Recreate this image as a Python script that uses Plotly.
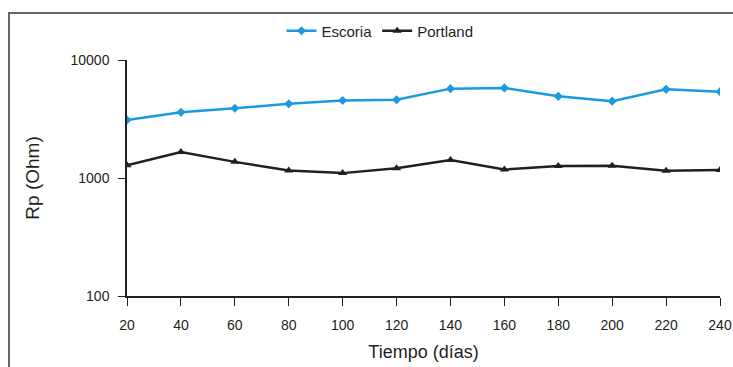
import plotly.graph_objects as go

dias = [20, 40, 60, 80, 100, 120, 140, 160, 180, 200, 220, 240]
escoria = [3100, 3600, 3900, 4250, 4540, 4600, 5720, 5800, 4920, 4480, 5640, 5390]
portland = [1280, 1660, 1370, 1160, 1100, 1210, 1420, 1180, 1265, 1270, 1150, 1170]
y_ticks = [100, 1000, 10000]

BLUE = "#1b9ae0"
BLACK = "#231f20"
FONT = "Liberation Sans, Arial, sans-serif"

fig = go.Figure()
fig.add_trace(go.Scatter(x=dias, y=escoria, name="Escoria", mode="lines+markers",
                         line=dict(color=BLUE, width=2.5),
                         marker=dict(symbol="diamond", size=7, color=BLUE)))
fig.add_trace(go.Scatter(x=dias, y=portland, name="Portland", mode="lines+markers",
                         line=dict(color=BLACK, width=2.5),
                         marker=dict(symbol="triangle-up", size=8, color=BLACK)))

L, R, T, B = 127, 13, 60, 71
W, H = 733, 367
pw, ph = W - L - R, H - T - B

def px_x(p):
    return (p - L) / pw

def px_y(p):
    return (H - B - p) / ph

fig.add_shape(type="rect", xref="paper", yref="paper",
              x0=px_x(9), x1=px_x(745), y0=px_y(380), y1=px_y(13),
              line=dict(color="#666666", width=2), layer="below")

fig.update_layout(
    width=W, height=H,
    margin=dict(l=L, r=R, t=T, b=B, autoexpand=False),
    paper_bgcolor="white", plot_bgcolor="white",
    font=dict(family=FONT, size=14, color="#231f20"),
    showlegend=True,
    legend=dict(orientation="h", x=px_x(380), xanchor="center",
                y=px_y(31), yanchor="middle", font=dict(size=15),
                itemwidth=30, tracegroupgap=0, bgcolor="rgba(0,0,0,0)"),
    xaxis=dict(range=[20, 240], tickmode="array", tickvals=dias,
               ticktext=[str(d) for d in dias], automargin=False,
               showgrid=False, zeroline=False, showline=True,
               linecolor=BLACK, linewidth=1.5,
               ticks="outside", ticklen=8, tickcolor=BLACK, tickwidth=1,
               ticklabelstandoff=7,
               tickfont=dict(size=14),
               title=dict(text="Tiempo (días)", font=dict(size=18), standoff=14)),
    yaxis=dict(type="log", range=[2, 4], tickmode="array", tickvals=y_ticks,
               ticktext=[str(v) for v in y_ticks], automargin=False,
               showgrid=False, zeroline=False, showline=True,
               linecolor=BLACK, linewidth=1.5,
               ticks="outside", ticklen=7, tickcolor=BLACK, tickwidth=1,
               ticklabelstandoff=6,
               tickfont=dict(size=14),
               title=dict(text="Rp (Ohm)", font=dict(size=19), standoff=26)),
)

fig.write_html("out.html")
